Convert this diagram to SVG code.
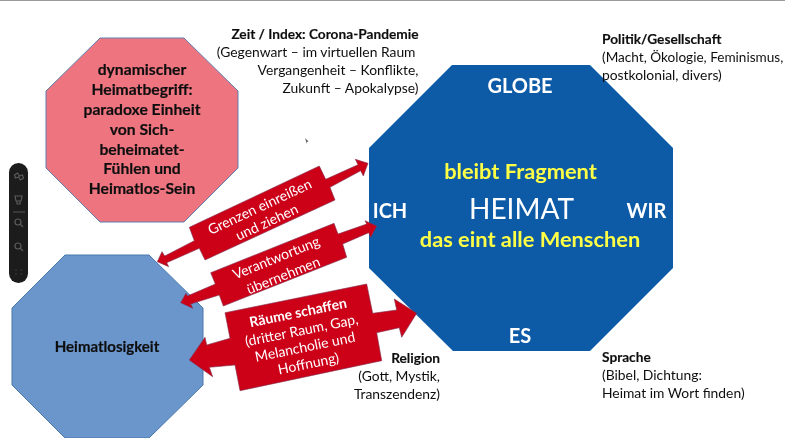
<svg xmlns="http://www.w3.org/2000/svg" width="785" height="442" viewBox="0 0 785 442">
<style>
text{font-family:"Lato","Open Sans","Liberation Sans",sans-serif;fill:#111}
.b{font-weight:700;stroke:#111;stroke-width:.15;font-size:13.700px}
.n{font-size:15.700px;font-weight:700;text-anchor:middle;stroke:#111;stroke-width:.2}
.a{font-size:13.850px;fill:#111}
.w{fill:#fff;font-weight:700;font-size:20px;text-anchor:middle}
.y{fill:#ffff45;font-weight:700;font-size:21.800px;text-anchor:middle}
.l{fill:#fff;font-size:14px;text-anchor:middle}
.lb{fill:#fff;font-size:14px;font-weight:700;text-anchor:middle}
.r{text-anchor:end}
.arrow{fill:#cc0019;stroke:#7d3350;stroke-width:.6}
.ic{fill:none;stroke:#5c5c5c;stroke-width:1.2}
</style>
<defs><filter id="soft" x="0" y="0" width="100%" height="100%"><feGaussianBlur stdDeviation="0.35"/></filter></defs>
<rect width="785" height="442" fill="#fff"/>
<g filter="url(#soft)">
<rect width="785" height="1" fill="#9a9a9a"/>
<g id="toolbar">
<rect x="9" y="163" width="19" height="120" rx="9.500" fill="#1a1a1a"/>
<path class="ic" d="M14.500 175l3 -2 2 3 3 -1 1 3 -3 2-2-3-3 1z"/>
<path class="ic" d="M15 196h7l-1 5h-5zM17 201v3h3v-3"/>
<line x1="13" y1="212" x2="25" y2="212" stroke="#555" stroke-width="1"/>
<circle class="ic" cx="18" cy="222" r="3"/><path class="ic" d="M20 224l3 3"/>
<circle class="ic" cx="18" cy="246" r="3"/><path class="ic" d="M20 248l3 3"/>
<path d="M15 269h2v2h-2zM20 269h2v2h-2zM15 273h2v2h-2zM20 273h2v2h-2z" fill="#2c2c2c"/>
</g>
<path d="M305 138l3.500 3.500-1.500 .5v2z" fill="#555"/>
<g id="node-begriff">
<polygon points="100,38 184,38 238,91 238,168 184,222 100,222 46,168 46,91" fill="#ee7580" stroke="#5f7fae" stroke-width="1"/>
<text class="n" x="142" y="75">dynamischer</text>
<text class="n" x="142" y="95">Heimatbegriff:</text>
<text class="n" x="142" y="115">paradoxe Einheit</text>
<text class="n" x="142" y="135">von Sich-</text>
<text class="n" x="142" y="155">beheimatet-</text>
<text class="n" x="142" y="174">Fühlen und</text>
<text class="n" x="142" y="194">Heimatlos-Sein</text>
</g>
<g id="node-heimatlosigkeit">
<polygon points="65,255 149,255 203,308 203,385 149,438 65,438 12,385 12,308" fill="#6a96cb" stroke="#4a78ab" stroke-width="1"/>
<text class="n" style="font-size:15px" x="107" y="352">Heimatlosigkeit</text>
</g>
<g id="node-heimat">
<polygon points="452,65 590,65 673,148 673,268 590,351 453,351 369,268 369,148" fill="#0d5aa7"/>
<text class="w" x="520" y="93">GLOBE</text>
<text class="y" x="520.500" y="179">bleibt Fragment</text>
<text x="521.500" y="219" text-anchor="middle" font-size="28" style="fill:#fff">HEIMAT</text>
<text class="w" x="390" y="218">ICH</text>
<text class="w" x="646.500" y="218">WIR</text>
<text class="y" x="530" y="247">das eint alle Menschen</text>
<text class="w" x="520" y="343">ES</text>
</g>
<g id="connectors">
<polygon class="arrow" points="368,163.300 363.300,176 360.700,170.700 330,187.300 335,200 205,260 199.300,248.300 166.700,262.700 168.700,266.700 157.300,261.700 162,251.700 164.700,256 194.300,240.700 189.300,227.300 319.300,166 325.700,179.300 358,164.700 355.300,159.300"/>
<polygon class="arrow" points="376.700,226 370.700,237.300 368.700,232.700 342.700,244 346.700,257.300 223.300,306 219.300,295 190.700,304 192.700,308.300 180.700,302.700 186,293.300 187.300,296 215.300,284 210.700,272.700 334,223.300 338,234 366.700,224 365,220.700"/>
<polygon class="arrow" points="416.700,313.300 401.700,337.300 399.300,327.700 376.700,332.700 381.700,360.700 240,390.700 235,365 209.300,367.300 212.700,376.700 189.300,360 205,337.300 206.700,345 230,338.300 225,312.700 366.700,284 372.700,313.300 396.700,310 394.300,299"/>
</g>
<g id="label-grenzen" transform="translate(263 214) rotate(-25)">
<text class="l" y="-3">Grenzen einreißen</text>
<text class="l" y="14">und ziehen</text>
</g>
<g id="label-verantwortung" transform="translate(279.500 266) rotate(-22)">
<text class="l" y="-4">Verantwortung</text>
<text class="l" y="15">übernehmen</text>
</g>
<g id="label-raeume" transform="translate(303 337) rotate(-11.500)">
<text class="lb" y="-20">Räume schaffen</text>
<text class="l" y="-2">(dritter Raum, Gap,</text>
<text class="l" y="15">Melancholie und</text>
<text class="l" y="32">Hoffnung)</text>
</g>
<g id="note-zeit">
<text class="b r" x="418.500" y="39">Zeit / Index: Corona-Pandemie</text>
<text class="a r" x="415.500" y="57">(Gegenwart – im virtuellen Raum</text>
<text class="a r" x="418.500" y="75">Vergangenheit – Konflikte,</text>
<text class="a r" x="418.500" y="93">Zukunft – Apokalypse)</text>
</g>
<g id="note-politik">
<text class="b" x="602" y="44">Politik/Gesellschaft</text>
<text class="a" x="602" y="62" style="font-size:13.600px">(Macht, Ökologie, Feminismus,</text>
<text class="a" x="602" y="80">postkolonial, divers)</text>
</g>
<g id="note-religion">
<text class="b r" x="440" y="363">Religion</text>
<text class="a r" x="440" y="381">(Gott, Mystik,</text>
<text class="a r" x="440" y="399">Transzendenz)</text>
</g>
<g id="note-sprache">
<text class="b" x="602" y="362">Sprache</text>
<text class="a" x="602" y="380">(Bibel, Dichtung:</text>
<text class="a" x="602" y="398">Heimat im Wort finden)</text>
</g>
</g>
</svg>
